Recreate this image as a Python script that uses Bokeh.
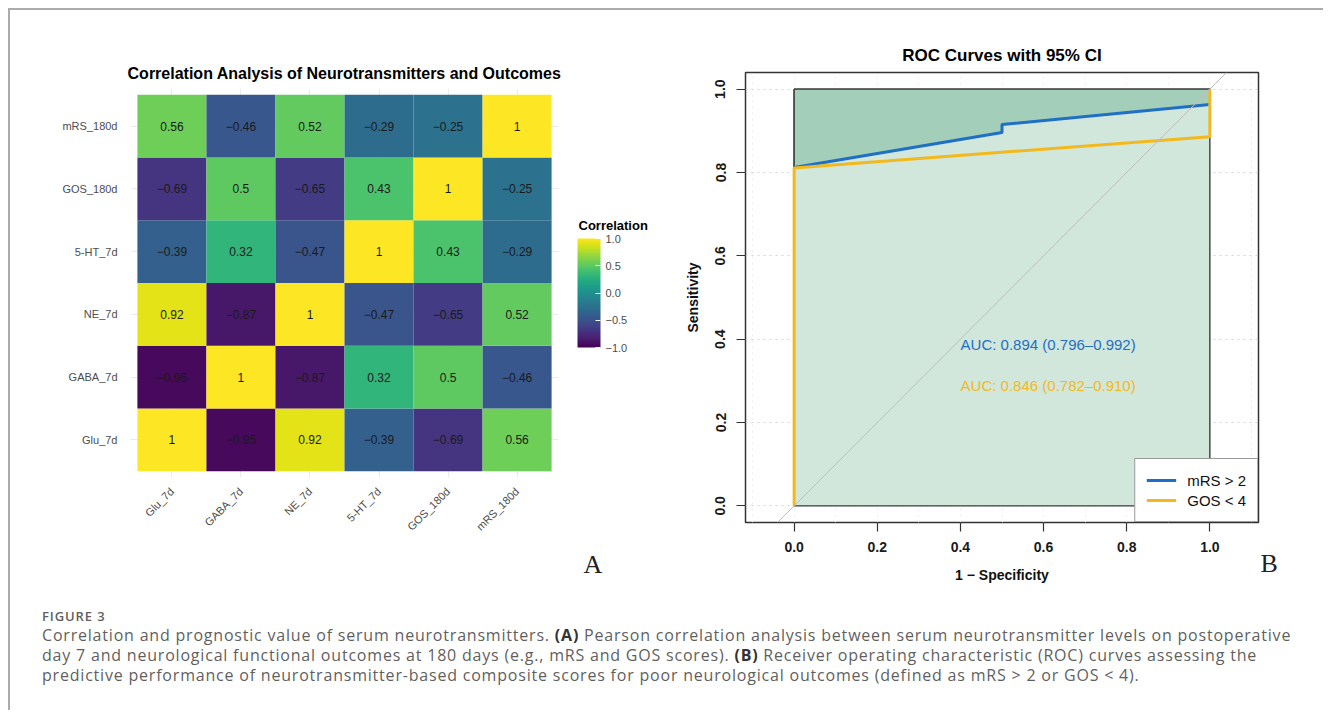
import numpy as np
from bokeh.plotting import figure
from bokeh.models import (ColumnDataSource, LinearColorMapper, ColorBar, FixedTicker,
                          Slope, Legend, LegendItem, Div)
from bokeh.layouts import row, column
from bokeh.palettes import Viridis256
from bokeh.transform import transform
from bokeh.core.properties import value
from bokeh.embed import file_html
from bokeh.resources import INLINE

# ---------------- data ----------------
variables = ["Glu_7d", "GABA_7d", "NE_7d", "5-HT_7d", "GOS_180d", "mRS_180d"]
corr_glu = [1, -0.95, 0.92, -0.39, -0.69, 0.56]
corr_gaba = [-0.95, 1, -0.87, 0.32, 0.5, -0.46]
corr_ne = [0.92, -0.87, 1, -0.47, -0.65, 0.52]
corr_5ht = [-0.39, 0.32, -0.47, 1, 0.43, -0.29]
corr_gos = [-0.69, 0.5, -0.65, 0.43, 1, -0.25]
corr_mrs = [0.56, -0.46, 0.52, -0.29, -0.25, 1]
colorbar_ticks = [-1.0, -0.5, 0.0, 0.5, 1.0]
colorbar_labels = ["\u22121.0", "\u22120.5", "0.0", "0.5", "1.0"]

roc_mrs_fpr = [0.0, 0.5, 0.5, 1.0]
roc_mrs_tpr = [0.812, 0.896, 0.915, 0.963]
roc_gos_fpr = [0.0, 0.0, 1.0, 1.0]
roc_gos_tpr = [0.0, 0.811, 0.886, 1.0]
ci_fpr = [0.0, 1.0, 1.0, 0.0]
ci_tpr = [0.0, 0.0, 1.0, 1.0]
auc_labels = ["AUC: 0.894 (0.796\u20130.992)", "AUC: 0.846 (0.782\u20130.910)"]
legend_labels = ["mRS > 2", "GOS < 4"]
roc_ticks = [0.0, 0.2, 0.4, 0.6, 0.8, 1.0]

SANS = "Liberation Sans"
SERIF = "Liberation Serif"
BLUE = "#1f6fc5"
YELLOW = "#f2b91d"

mapper = LinearColorMapper(palette=Viridis256, low=-1, high=1)


def text_box(fig, text, loc, font, size, style="normal", color="#000000"):
    """Free-standing text outside the frame: a colour-bar title whose bar is invisible."""
    tb = ColorBar(color_mapper=mapper, orientation="horizontal", width=10, height=1,
                  scale_alpha=0, bar_line_color=None, ticker=FixedTicker(ticks=[]),
                  major_tick_line_color=None, minor_tick_line_color=None,
                  major_label_text_alpha=0, label_standoff=0, padding=0, margin=0,
                  title=text, title_standoff=0, title_text_font=font,
                  title_text_font_size=size, title_text_font_style=style,
                  title_text_color=color, background_fill_color=None,
                  border_line_color=None, location=loc)
    fig.add_layout(tb, "center")


# ---------------- heatmap (A) ----------------
matrix = [corr_glu, corr_gaba, corr_ne, corr_5ht, corr_gos, corr_mrs]
xs, ys, vals, labs = [], [], [], []
for i, rowvals in enumerate(matrix):
    for j, v in enumerate(rowvals):
        xs.append(j + 1)
        ys.append(i + 1)
        vals.append(v)
        labs.append(f"{v:g}".replace("-", "\u2212"))
src = ColumnDataSource(dict(x=xs, y=ys, v=vals, t=labs))

pA = figure(width=655, height=590, x_range=(0.4, 6.6), y_range=(0.4, 6.6),
            min_border_left=120, min_border_right=107, min_border_top=78, min_border_bottom=123,
            output_backend="svg", toolbar_location=None, outline_line_color=None,
            background_fill_color="white", border_fill_color="white", frame_align=False,
            title="Correlation Analysis of Neurotransmitters and Outcomes")
pA.title.align = "center"
pA.title.text_font = SANS
pA.title.text_font_size = "16px"
pA.title.text_font_style = "bold"
pA.title.text_color = "#000000"
pA.title.standoff = 14

pA.rect(x="x", y="y", width=1, height=1, source=src,
        fill_color=transform("v", mapper), line_color=None)
pA.text(x="x", y="y", text="t", source=src, text_align="center", text_baseline="middle",
        text_font=value(SANS), text_font_size="12px", text_color="#1a1a1a")

tick_pos = list(range(1, 7))
overrides = {k: name for k, name in zip(tick_pos, variables)}
for ax in (pA.xaxis[0], pA.yaxis[0]):
    ax.ticker = FixedTicker(ticks=tick_pos)
    ax.major_label_overrides = overrides
    ax.axis_line_color = None
    ax.major_tick_line_color = None
    ax.minor_tick_line_color = None
    ax.major_label_text_font = SANS
    ax.major_label_text_font_size = "11px"
    ax.major_label_text_color = "#4d4d4d"
pA.xaxis.major_label_orientation = np.pi / 4
pA.xaxis.major_label_standoff = 6
pA.yaxis.major_label_standoff = 7
pA.xgrid.ticker = FixedTicker(ticks=tick_pos)
pA.ygrid.ticker = FixedTicker(ticks=tick_pos)
pA.grid.grid_line_color = "#ebebeb"
pA.grid.grid_line_width = 1

cb = ColorBar(color_mapper=mapper, ticker=FixedTicker(ticks=colorbar_ticks),
              major_label_overrides={k: v for k, v in zip(colorbar_ticks, colorbar_labels)},
              width=23, height=109,
              major_label_text_font=SANS, major_label_text_font_size="11px",
              major_label_text_color="#4d4d4d", major_tick_line_color="white",
              major_tick_in=5, major_tick_out=0, minor_tick_line_color=None,
              bar_line_color=None, label_standoff=5, padding=0, margin=0,
              background_fill_color=None, border_line_color=None,
              location=(447, 130))
pA.add_layout(cb, "center")
text_box(pA, "Correlation", (448, 244), SANS, "13px", "bold", "#000000")
text_box(pA, "A", (453, -102), SERIF, "26px", "normal", "#222222")

# ---------------- ROC (B) ----------------
pB = figure(width=658, height=590, x_range=(-0.117, 1.117), y_range=(-0.04, 1.04),
            min_border_left=80, min_border_right=65, min_border_top=62, min_border_bottom=78,
            output_backend="svg", toolbar_location=None,
            outline_line_color="#333333", outline_line_width=1.5,
            background_fill_color="white", border_fill_color="white", frame_align=False,
            title="ROC Curves with 95% CI")
pB.title.align = "center"
pB.title.text_font = SANS
pB.title.text_font_size = "17px"
pB.title.text_font_style = "bold"
pB.title.text_color = "#000000"
pB.title.standoff = 15

pB.ygrid.ticker = FixedTicker(ticks=roc_ticks)
pB.ygrid.grid_line_color = "#d4d4d4"
pB.ygrid.grid_line_dash = "dotted"
pB.ygrid.grid_line_width = 1
pB.xgrid.ticker = FixedTicker(ticks=[round(0.1 * k, 1) for k in range(-1, 12)])
pB.xgrid.grid_line_color = "#ececec"
pB.xgrid.grid_line_dash = "dotted"
pB.xgrid.grid_line_width = 1

pB.patch(ci_fpr, ci_tpr, fill_color="#d1e7dc", line_color="#3a3a3a", line_width=1.4)
pB.patch(roc_mrs_fpr + [1.0, 0.0], roc_mrs_tpr + [1.0, 1.0], fill_color="#a3cfba",
         line_color=None)
pB.line([0.0, 0.0], [roc_mrs_tpr[0], 1.0], line_color="#3a3a3a", line_width=1.4)
pB.line([0.0, 1.0], [1.0, 1.0], line_color="#3a3a3a", line_width=1.4)
pB.add_layout(Slope(gradient=1, y_intercept=0, line_color="#bdbdbd", line_width=1))
r_mrs = pB.line(roc_mrs_fpr, roc_mrs_tpr, line_color=BLUE, line_width=3)
r_gos = pB.line(roc_gos_fpr, roc_gos_tpr, line_color=YELLOW, line_width=3)

pB.text(x=[0.611, 0.611], y=[0.388, 0.288], text=auc_labels,
        text_color=[BLUE, YELLOW], text_align="center", text_baseline="middle",
        text_font=value(SANS), text_font_size="15px")

for ax in (pB.xaxis[0], pB.yaxis[0]):
    ax.ticker = FixedTicker(ticks=roc_ticks)
    ax.major_label_overrides = {t: f"{t:.1f}" for t in roc_ticks}
    ax.axis_line_color = None
    ax.major_tick_line_color = "#333333"
    ax.major_tick_line_width = 1.2
    ax.major_tick_out = 9
    ax.major_tick_in = 0
    ax.minor_tick_line_color = None
    ax.major_label_text_font = SANS
    ax.major_label_text_font_size = "14px"
    ax.major_label_text_font_style = "bold"
    ax.major_label_text_color = "#1a1a1a"
    ax.axis_label_text_font = SANS
    ax.axis_label_text_font_size = "14px"
    ax.axis_label_text_font_style = "bold"
    ax.axis_label_text_color = "#111111"
pB.xaxis.axis_label = "1 \u2212 Specificity"
pB.yaxis.axis_label = "Sensitivity"
pB.yaxis.major_label_orientation = "vertical"
pB.xaxis.major_label_standoff = 10
pB.yaxis.major_label_standoff = 11
pB.xaxis.axis_label_standoff = 12
pB.yaxis.axis_label_standoff = 12

legend = Legend(items=[LegendItem(label=legend_labels[0], renderers=[r_mrs]),
                       LegendItem(label=legend_labels[1], renderers=[r_gos])],
                location="bottom_right", margin=0, padding=11, spacing=0,
                glyph_width=30, glyph_height=20, label_height=20, label_standoff=11,
                label_text_font=SANS, label_text_font_size="15px", label_text_color="#111111",
                border_line_color="#333333", border_line_width=1.3,
                background_fill_color="white", background_fill_alpha=1)
pB.add_layout(legend, "center")

text_box(pB, "B", (515, -56), SERIF, "26px", "normal", "#222222")

# ---------------- caption ----------------
caption_html = (
    '<div style="font-family:\'Open Sans\'; color:#5f5f5f; padding-left:27px; white-space:nowrap;">'
    '<div style="font-size:13px; font-weight:600; letter-spacing:0.9px; line-height:16px; '
    'margin-top:3px;">FIGURE 3</div>'
    '<div style="font-size:16px; letter-spacing:0.8px; line-height:20px; margin-top:1px;">'
    'Correlation and prognostic value of serum neurotransmitters. <b style="color:#333">(A)</b> '
    'Pearson correlation analysis between serum neurotransmitter levels on postoperative<br>'
    'day 7 and neurological functional outcomes at 180 days (e.g., mRS and GOS scores). '
    '<b style="color:#333">(B)</b> Receiver operating characteristic (ROC) curves assessing the<br>'
    'predictive performance of neurotransmitter-based composite scores for poor neurological '
    'outcomes (defined as mRS &gt; 2 or GOS &lt; 4).'
    '</div></div>'
)
caption = Div(text=caption_html, width=1300, height=100)

root = column(row(pA, pB), caption, margin=(8, 0, 0, 8),
              styles={"border-top": "2px solid #ababab", "border-left": "2px solid #ababab"})

open("out.html", "w").write(file_html(root, INLINE))
